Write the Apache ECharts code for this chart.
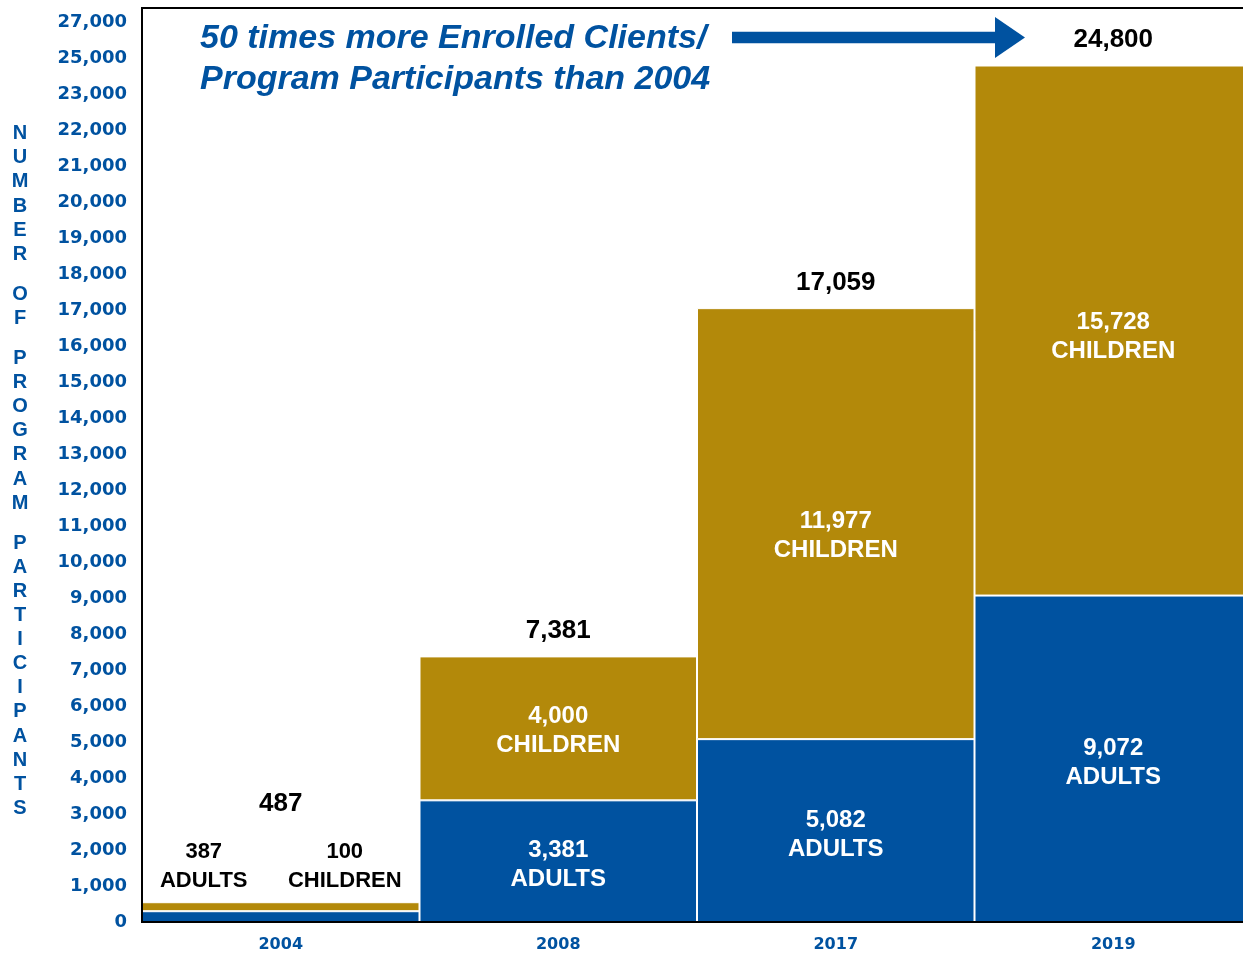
<!DOCTYPE html>
<html>
<head>
<meta charset="utf-8">
<script src="https://cdn.jsdelivr.net/npm/echarts@6/dist/echarts.min.js"></script>
<style>
  html, body { margin: 0; padding: 0; background: #fff; }
  #main { width: 1243px; height: 953px; }
</style>
</head>
<body>
<div id="main"></div>
<script>
const years = ["2004", "2008", "2017", "2019"];
const adults = [387, 3381, 5082, 9072];
const children = [100, 4000, 11977, 15728];
const totals = [487, 7381, 17059, 24800];
// bar heights as drawn in the picture (top of the axis is not to scale)
const adultsBar = [300, 3381, 5082, 9072];
const childrenBar = [250, 4000, 11977, 14730];
const tickLabels = [
  "0", "1,000", "2,000", "3,000", "4,000", "5,000", "6,000", "7,000", "8,000",
  "9,000", "10,000", "11,000", "12,000", "13,000", "14,000", "15,000", "16,000",
  "17,000", "18,000", "19,000", "20,000", "21,000", "22,000", "23,000", "25,000", "27,000"
];
const axisTitle = "NUMBER OF PROGRAM PARTICIPANTS";

const BLUE = "#0052A0";
const GOLD = "#B3890A";
const fmt = (v) => v.toLocaleString("en-US");

const myChart = echarts.init(document.getElementById("main"));

const insideLabel = {
  show: true,
  position: "inside",
  color: "#fff",
  fontFamily: "Liberation Sans",
  fontWeight: "bold",
  fontSize: 24,
  lineHeight: 29,
  offset: [0, 4],
};

// the two small 2004 labels sit above the thin bar, in black
const smallLabel = { ...insideLabel, color: "#000", fontSize: 22 };

const letterText = axisTitle
  .split("")
  .map((c) => (c === " " ? "{s| }" : "{l|" + c + "}"))
  .join("\n");

const option = {
  animation: false,
  grid: {
    left: 142,
    width: 1110,
    top: 8,
    bottom: 31,
    outerBoundsMode: "none",
    containLabel: false,
    show: true,
    borderColor: "#000",
    borderWidth: 2,
  },
  xAxis: {
    type: "category",
    data: years,
    z: 5,
    axisLine: { show: true, lineStyle: { color: "#000", width: 2 } },
    axisTick: { show: false },
    axisLabel: {
      color: BLUE,
      fontFamily: "DejaVu Sans",
      fontWeight: "bold",
      fontSize: 16,
      margin: 15,
    },
  },
  yAxis: {
    type: "value",
    min: 0,
    max: 25400,
    interval: 1000,
    z: 5,
    axisLine: { show: true, lineStyle: { color: "#000", width: 2 } },
    axisTick: { show: false },
    splitLine: { show: false },
    axisLabel: {
      showMaxLabel: false,
      color: BLUE,
      fontFamily: "DejaVu Sans",
      fontWeight: "bold",
      fontSize: 18,
      margin: 15,
      padding: [0, 0, 8, 0],
      formatter: (v) => tickLabels[Math.round(v / 1000)] || "",
    },
  },
  series: [
    {
      name: "Adults",
      type: "bar",
      stack: "total",
      barWidth: "100%",
      data: adultsBar.map((v, i) => ({
        value: v,
        label: i === 0 ? { ...smallLabel, offset: [-77, -50] } : insideLabel,
      })),
      label: {
        ...insideLabel,
        formatter: (p) => fmt(adults[p.dataIndex]) + "\nADULTS",
      },
      itemStyle: { color: BLUE, borderColor: "#fff", borderWidth: 1 },
    },
    {
      name: "Children",
      type: "bar",
      stack: "total",
      barWidth: "100%",
      data: childrenBar.map((v, i) => ({
        value: v,
        label:
          i === 0
            ? { ...smallLabel, offset: [64, -40] }
            : i === 2
            ? { ...insideLabel, offset: [0, 12] }
            : i === 3
            ? { ...insideLabel, offset: [0, 6] }
            : { ...insideLabel, offset: [0, 3] },
      })),
      label: {
        ...insideLabel,
        formatter: (p) => fmt(children[p.dataIndex]) + "\nCHILDREN",
      },
      itemStyle: { color: GOLD, borderColor: "#fff", borderWidth: 1 },
    },
    {
      name: "Total",
      type: "scatter",
      symbolSize: 1,
      z: 6,
      itemStyle: { color: "rgba(0,0,0,0)" },
      data: adultsBar.map((v, i) => ({
        value: v + childrenBar[i],
        label: i === 0 ? { offset: [0, -73] } : {},
      })),
      label: {
        show: true,
        position: "top",
        distance: 12,
        color: "#000",
        opacity: 1,
        fontFamily: "Liberation Sans",
        fontWeight: "bold",
        fontSize: 26,
        formatter: (p) => fmt(totals[p.dataIndex]),
      },
    },
  ],
  graphic: [
    {
      type: "text",
      z: 10,
      style: {
        x: 200,
        y: 18,
        text: "50 times more Enrolled Clients/\nProgram Participants than 2004",
        fill: BLUE,
        font: "italic bold 34px 'Liberation Sans'",
        lineHeight: 41,
      },
    },
    {
      type: "line",
      z: 10,
      shape: { x1: 732, y1: 37.5, x2: 998, y2: 37.5 },
      style: { stroke: BLUE, lineWidth: 11.5 },
    },
    {
      type: "polygon",
      z: 10,
      shape: { points: [[995, 17], [1025, 37.5], [995, 58]] },
      style: { fill: BLUE },
    },
    {
      type: "text",
      z: 10,
      style: {
        x: 20,
        y: 471,
        text: letterText,
        align: "center",
        verticalAlign: "middle",
        fill: BLUE,
        rich: {
          l: {
            fontFamily: "Liberation Sans",
            fontWeight: "bold",
            fontSize: 20,
            lineHeight: 24.1,
            fill: BLUE,
            align: "center",
          },
          s: { fontSize: 10, lineHeight: 16 },
        },
      },
    },
  ],
};

myChart.setOption(option);
</script>
</body>
</html>
